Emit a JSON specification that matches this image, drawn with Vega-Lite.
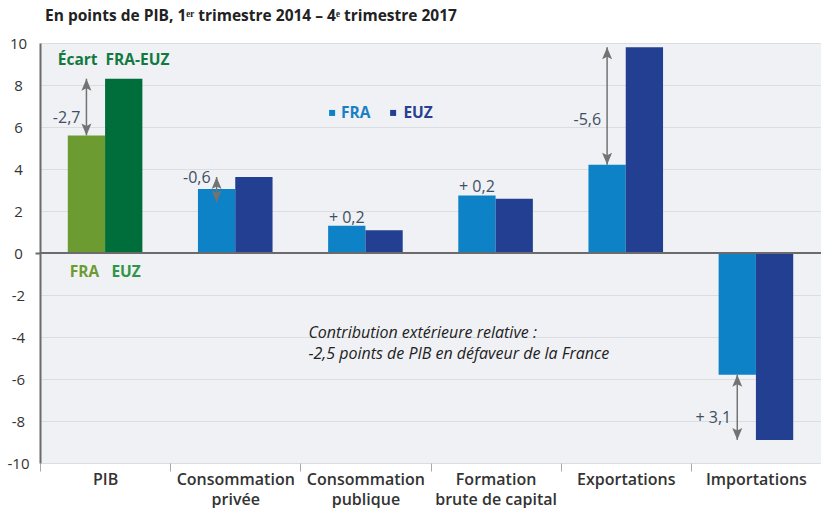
{
  "$schema": "https://vega.github.io/schema/vega-lite/v6.json",
  "width": 781,
  "height": 420,
  "autosize": {"type": "none"},
  "padding": {"left": 40, "top": 43, "right": 0, "bottom": 45},
  "background": "#ffffff",
  "title": {
    "text": "En points de PIB, 1ᵉʳ trimestre 2014 – 4ᵉ trimestre 2017",
    "anchor": "start",
    "dx": 38,
    "offset": 0,
    "baseline": "alphabetic",
    "font": "Open Sans",
    "fontSize": 15.5,
    "fontWeight": "bold",
    "color": "#222222"
  },
  "config": {
    "view": {"fill": "#f0f1f4", "stroke": null},
    "font": "Open Sans"
  },
  "datasets": {
    "barres": [
      {"categorie": "PIB", "pays": "FRA", "groupe": "PIB FRA", "valeur": 5.6},
      {"categorie": "PIB", "pays": "EUZ", "groupe": "PIB EUZ", "valeur": 8.3},
      {"categorie": "Consommation privée", "pays": "FRA", "groupe": "FRA", "valeur": 3.05},
      {"categorie": "Consommation privée", "pays": "EUZ", "groupe": "EUZ", "valeur": 3.62},
      {"categorie": "Consommation publique", "pays": "FRA", "groupe": "FRA", "valeur": 1.3},
      {"categorie": "Consommation publique", "pays": "EUZ", "groupe": "EUZ", "valeur": 1.08},
      {"categorie": "Formation brute de capital", "pays": "FRA", "groupe": "FRA", "valeur": 2.74},
      {"categorie": "Formation brute de capital", "pays": "EUZ", "groupe": "EUZ", "valeur": 2.58},
      {"categorie": "Exportations", "pays": "FRA", "groupe": "FRA", "valeur": 4.2},
      {"categorie": "Exportations", "pays": "EUZ", "groupe": "EUZ", "valeur": 9.8},
      {"categorie": "Importations", "pays": "FRA", "groupe": "FRA", "valeur": -5.8},
      {"categorie": "Importations", "pays": "EUZ", "groupe": "EUZ", "valeur": -8.9}
    ],
    "ecarts": [
      {"categorie": "PIB", "pays": "FRA", "haut": 8.3, "bas": 5.6, "fleche": true, "ecart": "-2,7", "y_texte": 6.43},
      {"categorie": "Consommation privée", "pays": "FRA", "haut": 3.62, "bas": 2.42, "fleche": true, "ecart": "-0,6", "y_texte": 3.56},
      {"categorie": "Consommation publique", "pays": "FRA", "haut": 1.3, "bas": 1.08, "fleche": false, "ecart": "+ 0,2", "y_texte": 1.3},
      {"categorie": "Formation brute de capital", "pays": "FRA", "haut": 2.74, "bas": 2.58, "fleche": false, "ecart": "+ 0,2", "y_texte": 2.74},
      {"categorie": "Exportations", "pays": "FRA", "haut": 9.8, "bas": 4.2, "fleche": true, "ecart": "-5,6", "y_texte": 6.34},
      {"categorie": "Importations", "pays": "FRA", "haut": -5.8, "bas": -8.9, "fleche": true, "ecart": "+ 3,1", "y_texte": -7.85}
    ]
  },
  "layer": [
    {
      "data": {"name": "barres"},
      "mark": {"type": "bar"},
      "encoding": {
        "x": {
          "field": "categorie",
          "type": "nominal",
          "sort": null,
          "scale": {
            "domain": ["PIB", "Consommation privée", "Consommation publique", "Formation brute de capital", "Exportations", "Importations"],
            "paddingInner": 0,
            "paddingOuter": 0
          },
          "axis": {
            "title": null,
            "orient": "bottom",
            "domain": false,
            "grid": false,
            "ticks": true,
            "tickBand": "extent",
            "tickSize": 8,
            "tickColor": "#aaaaaa",
            "tickWidth": 1,
            "labelAngle": 0,
            "labelFont": "Open Sans",
            "labelFontSize": 16,
            "labelFontWeight": 600,
            "labelColor": "#333333",
            "labelPadding": 0,
            "labelBaseline": "top",
            "labelLineHeight": 20,
            "labelExpr": "datum.label == 'Consommation privée' ? ['Consommation', 'privée'] : datum.label == 'Consommation publique' ? ['Consommation', 'publique'] : datum.label == 'Formation brute de capital' ? ['Formation', 'brute de capital'] : datum.label"
          }
        },
        "xOffset": {
          "field": "pays",
          "type": "nominal",
          "sort": null,
          "scale": {"domain": ["FRA", "EUZ"], "paddingInner": 0, "paddingOuter": 0.745}
        },
        "y": {
          "field": "valeur",
          "type": "quantitative",
          "scale": {"domain": [-10, 10], "nice": false, "zero": false},
          "axis": {
            "title": null,
            "values": [-10, -8, -6, -4, -2, 0, 2, 4, 6, 8, 10],
            "domain": true,
            "domainColor": "#6b6b6b",
            "domainWidth": 2,
            "grid": true,
            "gridColor": "#dcdde1",
            "gridWidth": 1,
            "ticks": true,
            "tickSize": 5,
            "tickWidth": 2,
            "tickColor": {"condition": {"test": "datum.value === 0", "value": "#6b6b6b"}, "value": "transparent"},
            "labelFont": "Open Sans",
            "labelFontSize": 15,
            "labelColor": "#333333",
            "labelAlign": "center",
            "labelPadding": 17,
            "labelExpr": "datum.value"
          }
        },
        "color": {
          "field": "groupe",
          "type": "nominal",
          "scale": {
            "domain": ["PIB FRA", "PIB EUZ", "FRA", "EUZ"],
            "range": ["#6c9c31", "#006e3a", "#0d82c7", "#233f92"]
          },
          "legend": null
        }
      }
    },
    {
      "data": {"values": [{}]},
      "mark": {"type": "rule", "color": "#6b6b6b", "strokeWidth": 2},
      "encoding": {"y": {"datum": 0}}
    },
    {
      "data": {"name": "ecarts"},
      "transform": [{"filter": "datum.fleche"}],
      "mark": {"type": "rule", "color": "#737373", "strokeWidth": 1.5},
      "encoding": {
        "x": {"field": "categorie", "type": "nominal", "sort": null},
        "xOffset": {"field": "pays", "type": "nominal", "sort": null},
        "y": {"field": "haut", "type": "quantitative"},
        "y2": {"field": "bas"}
      }
    },
    {
      "data": {"name": "ecarts"},
      "transform": [{"filter": "datum.fleche"}],
      "mark": {"type": "point", "filled": true, "opacity": 1, "color": "#737373", "strokeWidth": 0, "size": 100, "shape": "M0,0L1,2.4L0,1.9L-1,2.4Z"},
      "encoding": {
        "x": {"field": "categorie", "type": "nominal", "sort": null},
        "xOffset": {"field": "pays", "type": "nominal", "sort": null},
        "y": {"field": "haut", "type": "quantitative"}
      }
    },
    {
      "data": {"name": "ecarts"},
      "transform": [{"filter": "datum.fleche"}],
      "mark": {"type": "point", "filled": true, "opacity": 1, "color": "#737373", "strokeWidth": 0, "size": 100, "shape": "M0,0L1,-2.4L0,-1.9L-1,-2.4Z"},
      "encoding": {
        "x": {"field": "categorie", "type": "nominal", "sort": null},
        "xOffset": {"field": "pays", "type": "nominal", "sort": null},
        "y": {"field": "bas", "type": "quantitative"}
      }
    },
    {
      "data": {"name": "ecarts"},
      "transform": [{"filter": "datum.fleche"}],
      "mark": {"type": "text", "align": "right", "baseline": "middle", "dx": -6, "font": "Open Sans", "fontSize": 16, "color": "#3e4f63"},
      "encoding": {
        "x": {"field": "categorie", "type": "nominal", "sort": null},
        "xOffset": {"field": "pays", "type": "nominal", "sort": null},
        "y": {"field": "y_texte", "type": "quantitative"},
        "text": {"field": "ecart"}
      }
    },
    {
      "data": {"name": "ecarts"},
      "transform": [{"filter": "!datum.fleche"}],
      "mark": {"type": "text", "align": "center", "baseline": "alphabetic", "dy": -3, "font": "Open Sans", "fontSize": 16, "color": "#3e4f63"},
      "encoding": {
        "x": {"field": "categorie", "type": "nominal", "sort": null},
        "xOffset": {"field": "pays", "type": "nominal", "sort": null},
        "y": {"field": "y_texte", "type": "quantitative"},
        "text": {"field": "ecart"}
      }
    },
    {
      "data": {"values": [{}]},
      "mark": {"type": "text", "text": "Écart\u00a0 FRA-EUZ", "align": "center", "baseline": "middle", "dx": 8.5, "font": "Open Sans", "fontSize": 15.5, "fontWeight": "bold", "color": "#117a41"},
      "encoding": {"x": {"datum": "PIB"}, "y": {"datum": 9.19}}
    },
    {
      "data": {"values": [{}]},
      "mark": {"type": "text", "text": "FRA", "align": "center", "baseline": "middle", "dx": -20.5, "font": "Open Sans", "fontSize": 15.5, "fontWeight": "bold", "color": "#6c9c31"},
      "encoding": {"x": {"datum": "PIB"}, "y": {"datum": -0.92}}
    },
    {
      "data": {"values": [{}]},
      "mark": {"type": "text", "text": "EUZ", "align": "center", "baseline": "middle", "dx": 21, "font": "Open Sans", "fontSize": 15.5, "fontWeight": "bold", "color": "#2f9548"},
      "encoding": {"x": {"datum": "PIB"}, "y": {"datum": -0.92}}
    },
    {
      "data": {"values": [{}]},
      "mark": {"type": "square", "filled": true, "opacity": 1, "size": 36, "color": "#0d82c7", "xOffset": -33.3},
      "encoding": {"x": {"datum": "Consommation publique"}, "y": {"datum": 6.67}}
    },
    {
      "data": {"values": [{}]},
      "mark": {"type": "square", "filled": true, "opacity": 1, "size": 36, "color": "#233f92", "xOffset": 27.7},
      "encoding": {"x": {"datum": "Consommation publique"}, "y": {"datum": 6.67}}
    },
    {
      "data": {"values": [{}]},
      "mark": {"type": "text", "text": "FRA", "align": "left", "baseline": "middle", "dx": -24.3, "font": "Open Sans", "fontSize": 15.5, "fontWeight": "bold", "color": "#1a80c4"},
      "encoding": {"x": {"datum": "Consommation publique"}, "y": {"datum": 6.67}}
    },
    {
      "data": {"values": [{}]},
      "mark": {"type": "text", "text": "EUZ", "align": "left", "baseline": "middle", "dx": 38, "font": "Open Sans", "fontSize": 15.5, "fontWeight": "bold", "color": "#27408f"},
      "encoding": {"x": {"datum": "Consommation publique"}, "y": {"datum": 6.67}}
    },
    {
      "data": {"values": [{}]},
      "mark": {"type": "text", "text": ["Contribution extérieure relative :", "-2,5 points de PIB en défaveur de la France"], "align": "left", "baseline": "top", "lineHeight": 21, "dx": -57, "font": "Open Sans", "fontSize": 16, "fontStyle": "italic", "color": "#222222"},
      "encoding": {"x": {"datum": "Consommation publique"}, "y": {"datum": -3.42}}
    }
  ]
}
